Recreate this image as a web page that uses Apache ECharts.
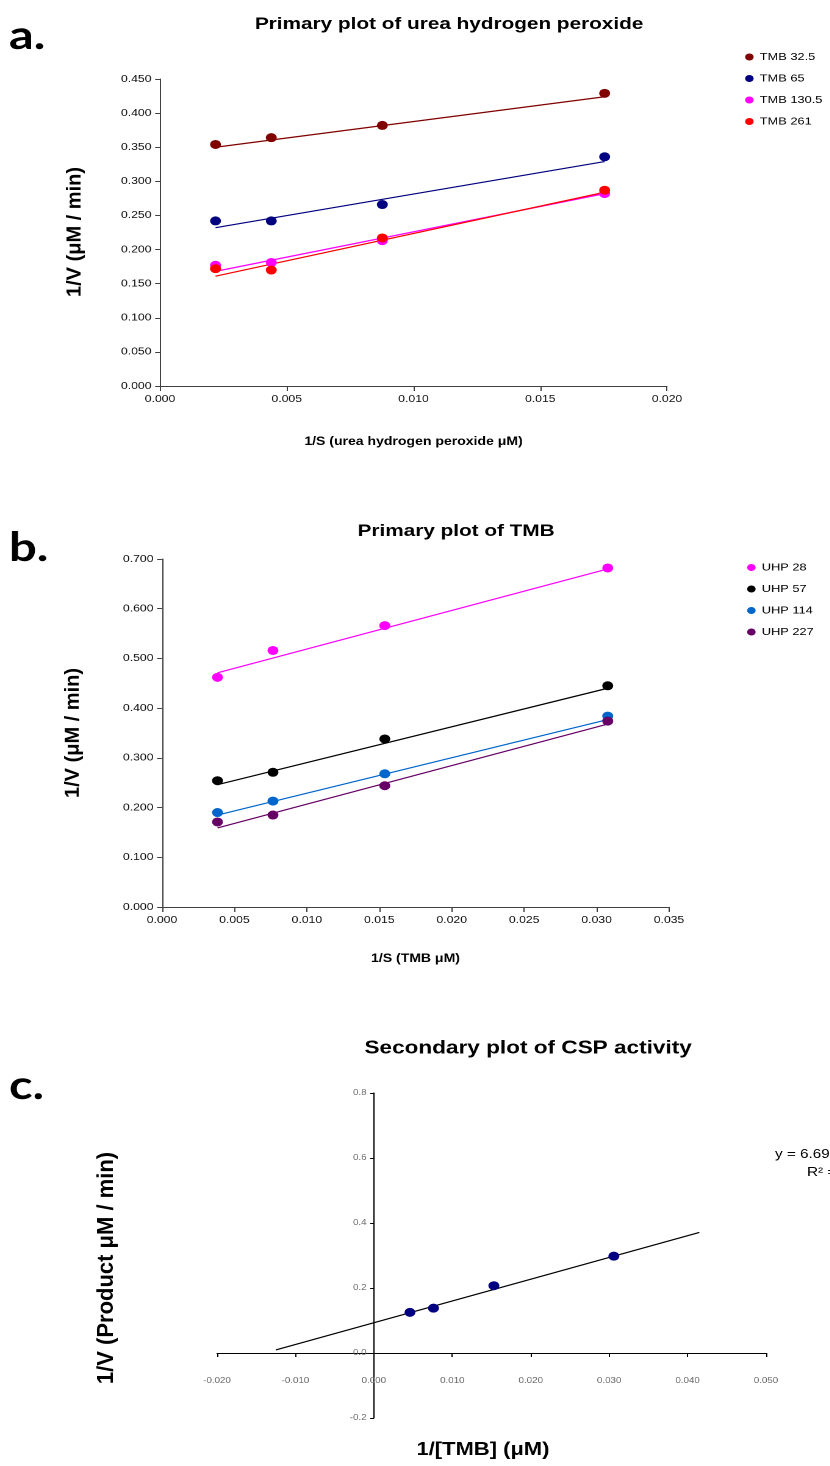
<!DOCTYPE html>
<html>
<head>
<meta charset="utf-8">
<title>Primary and secondary plots</title>
<script src="https://cdn.jsdelivr.net/npm/echarts@6/dist/echarts.min.js"></script>
<style>
  html, body { margin: 0; padding: 0; background: #ffffff; overflow: hidden; }
  #page { width: 830px; height: 1466px; overflow: hidden; }
  /* the figure is drawn on a narrower canvas and widened to the page */
  #chart { height: 1466px; transform-origin: 0 0; }
</style>
</head>
<body>
<div id="page"><div id="chart"></div></div>
<script>
// ---- Panel a: 1/V against 1/[UHP] at fixed TMB ----
const xA = [0.00219, 0.00439, 0.00877, 0.01754];
const namesA = ['TMB 32.5', 'TMB 65', 'TMB 130.5', 'TMB 261'];
const yA_TMB32_5 = [0.354, 0.364, 0.382, 0.429];
const yA_TMB65 = [0.242, 0.242, 0.266, 0.336];
const yA_TMB130_5 = [0.177, 0.181, 0.213, 0.282];
const yA_TMB261 = [0.172, 0.170, 0.217, 0.287];
// trendline values at the first and last x
const fitA_TMB32_5 = [0.350, 0.424];
const fitA_TMB65 = [0.232, 0.329];
const fitA_TMB130_5 = [0.168, 0.282];
const fitA_TMB261 = [0.161, 0.284];
const yTicksA = { min: 0, max: 0.45, step: 0.05 };
const xTicksA = { min: 0, max: 0.02, step: 0.005 };

// ---- Panel b: 1/V against 1/[TMB] at fixed UHP ----
const xB = [0.00383, 0.00766, 0.01538, 0.03077];
const namesB = ['UHP 28', 'UHP 57', 'UHP 114', 'UHP 227'];
const yB_UHP28 = [0.462, 0.516, 0.566, 0.682];
const yB_UHP57 = [0.254, 0.271, 0.338, 0.445];
const yB_UHP114 = [0.190, 0.213, 0.268, 0.384];
const yB_UHP227 = [0.171, 0.185, 0.244, 0.374];
const fitB_UHP28 = [0.471, 0.680];
const fitB_UHP57 = [0.246, 0.440];
const fitB_UHP114 = [0.185, 0.377];
const fitB_UHP227 = [0.159, 0.368];
const yTicksB = { min: 0, max: 0.7, step: 0.1 };
const xTicksB = { min: 0, max: 0.035, step: 0.005 };

// ---- Panel c: secondary plot ----
const xC = [0.0046, 0.0076, 0.0153, 0.0306];
const yC = [0.125, 0.138, 0.207, 0.298];
const slopeC = 6.694;
const interceptC = 0.0931;
const fitRangeC = [-0.0125, 0.0415];
const eqTextC = 'y = 6.694x + 0.0931';
const r2TextC = 'R\u00B2 = 0.9935';
const yTicksC = { min: -0.2, max: 0.8, step: 0.2 };
const xTicksC = { min: -0.02, max: 0.05, step: 0.01 };

const colorsA = ['#800000', '#000080', '#ff00ff', '#ff0000'];
const colorsB = ['#ff00ff', '#000000', '#0066cc', '#660066'];
const colorC = '#000080';

// horizontal widening of the whole figure
const SX = 1.22;
const PAGE_W = 830;
const h = x => x / SX;

const FONT = '"Liberation Sans", Arial, sans-serif';
const pair = (xs, ys) => xs.map((x, i) => [x, ys[i]]);
const ends = (xs, f) => [[xs[0], f[0]], [xs[xs.length - 1], f[1]]];

const gridA = { left: h(160), top: 79, width: h(507), height: 307 };
const gridB = { left: h(162), top: 559, width: h(507), height: 348 };
const gridC = { left: h(217), top: 1093, width: h(549), height: 325 };

function axisPair(gi, xt, yt, xDec, yDec, opts) {
  const o = opts || {};
  const lineCol = o.lineColor || '#404040';
  const labCol = o.labelColor || '#111';
  const fs = o.fontSize || 10;
  const x = {
    type: 'value', gridIndex: gi, min: xt.min, max: xt.max, interval: xt.step,
    offset: o.xOffset || 0,
    splitLine: { show: false },
    axisLine: { show: true, onZero: false, lineStyle: { color: lineCol, width: 1 } },
    axisTick: { show: true, inside: false, length: o.xTick || 5, lineStyle: { color: lineCol } },
    axisLabel: { color: labCol, fontFamily: FONT, fontSize: fs, margin: o.xMargin || 8,
      formatter: v => v.toFixed(xDec) }
  };
  const y = {
    type: 'value', gridIndex: gi, min: yt.min, max: yt.max, interval: yt.step,
    offset: o.yOffset || 0,
    splitLine: { show: false },
    axisLine: { show: true, onZero: false, lineStyle: { color: lineCol, width: 1 } },
    axisTick: { show: true, inside: false, length: o.yTick || 4, lineStyle: { color: lineCol } },
    axisLabel: { color: labCol, fontFamily: FONT, fontSize: fs, margin: o.yMargin || 7,
      formatter: v => v.toFixed(yDec) }
  };
  return { x, y };
}

// Panel c axes cross at the origin: shift each axis to where zero falls on the other
const zeroShiftX = -gridC.height * (0 - yTicksC.min) / (yTicksC.max - yTicksC.min);
const zeroShiftY = -gridC.width * (0 - xTicksC.min) / (xTicksC.max - xTicksC.min);

const axA = axisPair(0, xTicksA, yTicksA, 3, 3);
const axB = axisPair(1, xTicksB, yTicksB, 3, 3);
const axC = axisPair(2, xTicksC, yTicksC, 3, 1,
  { lineColor: '#000', labelColor: '#666', fontSize: 8, xTick: 4, yTick: 3,
    xMargin: 24, yMargin: 6, xOffset: zeroShiftX, yOffset: zeroShiftY });

const xTitleStyle = { fontFamily: FONT, fontWeight: 'bold', fontSize: 11.5, color: '#000' };
axA.x.name = '1/S (urea hydrogen peroxide \u03BCM)';
axA.x.nameLocation = 'middle'; axA.x.nameGap = 50; axA.x.nameTextStyle = xTitleStyle;
axB.x.name = '1/S (TMB \u03BCM)';
axB.x.nameLocation = 'middle'; axB.x.nameGap = 46; axB.x.nameTextStyle = xTitleStyle;

function scatter(name, xi, data, color) {
  return { name, type: 'scatter', xAxisIndex: xi, yAxisIndex: xi, data,
    symbol: 'circle', symbolSize: 9, itemStyle: { color, opacity: 1 }, z: 3, silent: true };
}
function trend(name, xi, data, color) {
  return { name, type: 'line', xAxisIndex: xi, yAxisIndex: xi, data,
    symbol: 'none', lineStyle: { color, width: 1.2 }, z: 2, silent: true };
}

const seriesA = [yA_TMB32_5, yA_TMB65, yA_TMB130_5, yA_TMB261];
const fitsA = [fitA_TMB32_5, fitA_TMB65, fitA_TMB130_5, fitA_TMB261];
const seriesB = [yB_UHP28, yB_UHP57, yB_UHP114, yB_UHP227];
const fitsB = [fitB_UHP28, fitB_UHP57, fitB_UHP114, fitB_UHP227];

const series = [];
namesA.forEach((n, i) => {
  series.push(trend(n + ' fit', 0, ends(xA, fitsA[i]), colorsA[i]));
});
namesA.forEach((n, i) => {
  series.push(scatter(n, 0, pair(xA, seriesA[i]), colorsA[i]));
});
namesB.forEach((n, i) => {
  series.push(trend(n + ' fit', 1, ends(xB, fitsB[i]), colorsB[i]));
});
namesB.forEach((n, i) => {
  series.push(scatter(n, 1, pair(xB, seriesB[i]), colorsB[i]));
});
series.push(trend('CSP fit', 2,
  fitRangeC.map(x => [x, slopeC * x + interceptC]), '#000'));
series.push(scatter('CSP', 2, pair(xC, yC), colorC));

const legendBase = {
  orient: 'vertical', icon: 'circle', itemWidth: 7, itemHeight: 7, itemGap: 10.5,
  textStyle: { fontFamily: FONT, fontSize: 10.5, color: '#000' }, selectedMode: false
};

const panelLetter = (text, top) => ({
  type: 'text', left: h(9), top,
  style: { text, fontFamily: 'Lato, "Open Sans", sans-serif', fontWeight: 'bold', fontSize: 40, fill: '#000' }
});

// vertical axis titles keep their natural proportions (undo the widening)
const sideTitle = (text, cx, cy, size) => ({
  type: 'text', x: h(cx), y: cy, rotation: Math.PI / 2, scaleY: 1 / SX,
  style: { text, fontFamily: FONT, fontWeight: 'bold', fontSize: size, fill: '#000',
    align: 'center', verticalAlign: 'middle' }
});

const option = {
  backgroundColor: '#ffffff',
  animation: false,
  title: [
    { text: 'Primary plot of urea hydrogen peroxide', left: h(443), top: 11, textAlign: 'center',
      textStyle: { fontFamily: FONT, fontWeight: 'bold', fontSize: 17, color: '#000' } },
    { text: 'Primary plot of TMB', left: h(450), top: 518, textAlign: 'center',
      textStyle: { fontFamily: FONT, fontWeight: 'bold', fontSize: 17, color: '#000' } },
    { text: 'Secondary plot of CSP activity', left: h(522), top: 1034, textAlign: 'center',
      textStyle: { fontFamily: FONT, fontWeight: 'bold', fontSize: 18.5, color: '#000' } }
  ],
  legend: [
    Object.assign({}, legendBase, { data: namesA, left: h(739), top: 46.5 }),
    Object.assign({}, legendBase, { data: namesB, left: h(741), top: 557 })
  ],
  grid: [gridA, gridB, gridC],
  xAxis: [axA.x, axB.x, axC.x],
  yAxis: [axA.y, axB.y, axC.y],
  series,
  graphic: [
    panelLetter('a.', 16),
    panelLetter('b.', 528),
    panelLetter('c.', 1066),
    sideTitle('1/V (\u03BCM / min)', 75, 232, 20),
    sideTitle('1/V (\u03BCM / min)', 73, 733, 20),
    sideTitle('1/V (Product \u03BCM / min)', 107, 1268, 22),
    { type: 'text', left: h(775), top: 1148,
      style: { text: eqTextC, fontFamily: FONT, fontSize: 12.5, fill: '#000' } },
    { type: 'text', left: h(807), top: 1166,
      style: { text: r2TextC, fontFamily: FONT, fontSize: 12.5, fill: '#000' } },
    { type: 'text', x: h(483), y: 1450,
      style: { text: '1/[TMB] (\u03BCM)', fontFamily: FONT, fontWeight: 'bold', fontSize: 18,
        fill: '#000', align: 'center', verticalAlign: 'middle' } }
  ]
};

const el = document.getElementById('chart');
el.style.width = h(PAGE_W) + 'px';
el.style.transform = 'scaleX(' + SX + ')';
const chart = echarts.init(el, null, { renderer: 'canvas', devicePixelRatio: 2 });
chart.setOption(option);
</script>
</body>
</html>
